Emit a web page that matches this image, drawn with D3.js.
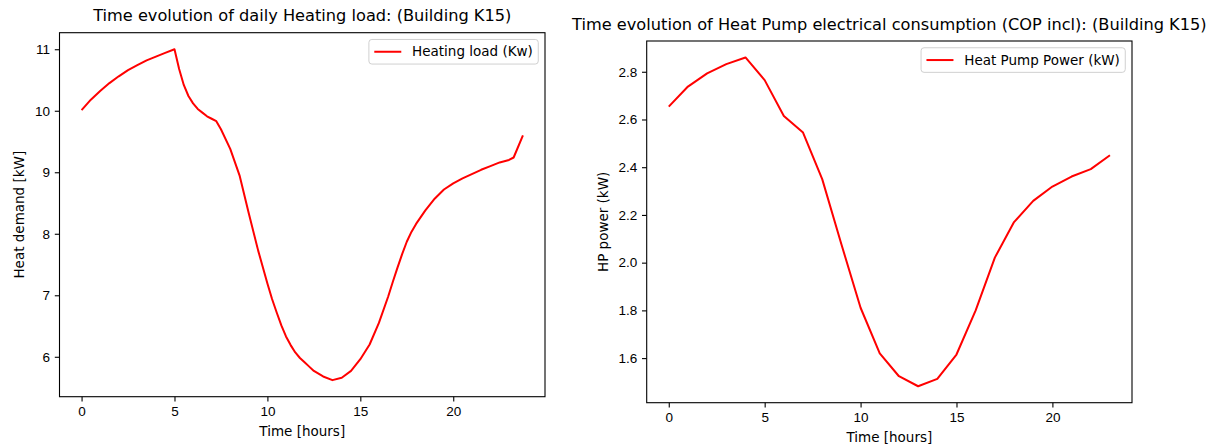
<!DOCTYPE html>
<html>
<head>
<meta charset="utf-8">
<script src="https://cdn.jsdelivr.net/npm/d3@7"></script>
<style>
  body { margin: 0; background: #fff; }
  svg { display: block; font-family: "DejaVu Sans", sans-serif; }
  .tick text { font-size: 13.5px; fill: #000; }
  .tick line { stroke: #000; stroke-width: 1.1; }
</style>
</head>
<body>
<div id="chart"></div>
<script>
// left panel: heating load
const loadHours = [0, 0.5, 1, 1.5, 2, 2.5, 3, 3.5, 4, 4.5, 5, 5.25, 5.5, 5.75, 6, 6.25, 6.5, 6.75, 7, 7.25, 7.5, 8, 8.5, 9, 9.5,
  10, 10.25, 10.5, 10.75, 11, 11.25, 11.5, 11.75, 12, 12.25, 12.5, 13, 13.5, 14, 14.5, 15, 15.5, 16, 16.5, 16.75,
  17, 17.25, 17.5, 17.75, 18, 18.25, 18.5, 19, 19.5, 20, 20.5, 21, 21.5, 22, 22.5, 23, 23.25, 23.75];
const heatingLoad = [10.01, 10.18, 10.32, 10.45, 10.56, 10.66, 10.74, 10.82, 10.88, 10.94, 11.0, 10.68, 10.42, 10.24, 10.12, 10.03, 9.97, 9.91, 9.87, 9.83, 9.70, 9.38, 8.95, 8.33, 7.73,
  7.19, 6.94, 6.72, 6.51, 6.33, 6.19, 6.07, 5.98, 5.91, 5.84, 5.77, 5.68, 5.62, 5.66, 5.77, 5.96, 6.20, 6.55, 6.98, 7.22,
  7.45, 7.67, 7.87, 8.03, 8.16, 8.27, 8.38, 8.57, 8.72, 8.82, 8.90, 8.97, 9.04, 9.10, 9.16, 9.20, 9.24, 9.60];

// right panel: heat pump power, hourly
const hpHours = d3.range(0, 24);
const hpPower = [2.654, 2.738, 2.793, 2.832, 2.860, 2.765, 2.615, 2.545, 2.350, 2.077, 1.811, 1.620,
  1.524, 1.482, 1.513, 1.615, 1.800, 2.021, 2.170, 2.259, 2.319, 2.361, 2.392, 2.450];

const xTicks = [0, 5, 10, 15, 20];
const loadTicks = [6, 7, 8, 9, 10, 11];
const hpTicks = [1.6, 1.8, 2.0, 2.2, 2.4, 2.6, 2.8];

const W = 1218, H = 444;
const svg = d3.select('#chart').append('svg')
  .attr('width', W)
  .attr('height', H);

// matplotlib style 5% padding around data
function padded(vals) {
  const [lo, hi] = d3.extent(vals);
  const m = (hi - lo) * 0.05;
  return [lo - m, hi + m];
}

function panel(opts) {
  const { box, xs, ys, yTicks, yFmt, title, ylabel, legend } = opts;
  const w = box.right - box.left, h = box.bottom - box.top;
  const g = svg.append('g').attr('transform', `translate(${box.left},${box.top})`);

  const x = d3.scaleLinear().domain(padded(xs)).range([0, w]);
  const y = d3.scaleLinear().domain(padded(ys)).range([h, 0]);

  const line = d3.line()
    .x((d, i) => x(xs[i]))
    .y(d => y(d));

  g.append('path')
    .datum(ys)
    .attr('fill', 'none')
    .attr('stroke', '#ff0000')
    .attr('stroke-width', 2)
    .attr('stroke-linejoin', 'round')
    .attr('d', line);

  const xAxis = g.append('g')
    .attr('transform', `translate(0,${h})`)
    .call(d3.axisBottom(x).tickValues(xTicks).tickSize(4.7).tickPadding(4.7).tickFormat(d3.format('d')));
  xAxis.select('.domain').remove();

  const yAxis = g.append('g')
    .call(d3.axisLeft(y).tickValues(yTicks).tickSize(4.7).tickPadding(4.7).tickFormat(yFmt));
  yAxis.select('.domain').remove();

  // spines
  g.append('rect')
    .attr('width', w)
    .attr('height', h)
    .attr('fill', 'none')
    .attr('stroke', '#000')
    .attr('stroke-width', 1.1);

  g.append('text')
    .attr('x', w / 2)
    .attr('y', -11.5)
    .attr('text-anchor', 'middle')
    .style('font-size', '16.2px')
    .text(title);

  g.append('text')
    .attr('x', w / 2)
    .attr('y', h + 39)
    .attr('text-anchor', 'middle')
    .style('font-size', '13.5px')
    .text('Time [hours]');

  g.append('text')
    .attr('transform', `translate(${opts.ylabelX - box.left},${h / 2}) rotate(-90)`)
    .attr('text-anchor', 'middle')
    .attr('dy', '0.35em')
    .style('font-size', '13.5px')
    .text(ylabel);

  // legend, upper right
  const lg = g.append('g');
  const txt = lg.append('text')
    .style('font-size', '13.5px')
    .text(legend);
  const tw = txt.node().getComputedTextLength();
  const bw = 5.4 + 27 + 10.8 + tw + 5.4, bh = 24.6;
  const lx = w - 6.75 - bw, ly = 6.75;
  lg.insert('rect', 'text')
    .attr('x', lx).attr('y', ly)
    .attr('width', bw).attr('height', bh)
    .attr('rx', 3)
    .attr('fill', '#fff').attr('fill-opacity', 0.8)
    .attr('stroke', '#d0d0d0').attr('stroke-width', 1);
  lg.append('line')
    .attr('x1', lx + 5.4).attr('x2', lx + 5.4 + 27)
    .attr('y1', ly + bh / 2).attr('y2', ly + bh / 2)
    .attr('stroke', '#ff0000').attr('stroke-width', 2);
  txt.attr('x', lx + 5.4 + 27 + 10.8)
    .attr('y', ly + bh / 2)
    .attr('dy', '0.35em');
}

panel({
  box: { left: 59.5, right: 545, top: 32.7, bottom: 396.7 },
  xs: loadHours, ys: heatingLoad,
  yTicks: loadTicks, yFmt: d3.format('d'),
  title: 'Time evolution of daily Heating load: (Building K15)',
  ylabel: 'Heat demand [kW]', ylabelX: 19,
  legend: 'Heating load (Kw)'
});

panel({
  box: { left: 646.7, right: 1132, top: 41, bottom: 402.7 },
  xs: hpHours, ys: hpPower,
  yTicks: hpTicks, yFmt: d3.format('.1f'),
  title: 'Time evolution of Heat Pump electrical consumption (COP incl): (Building K15)',
  ylabel: 'HP power (kW)', ylabelX: 603,
  legend: 'Heat Pump Power (kW)'
});
</script>
</body>
</html>
